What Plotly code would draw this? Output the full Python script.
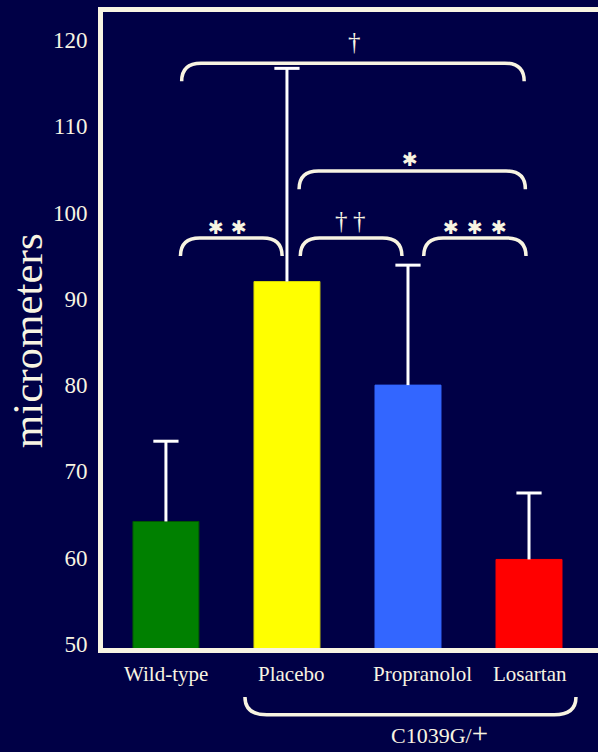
import plotly.graph_objects as go

# Group means and upper standard deviations (micrometers)
groups = ["Wild-type", "Placebo", "Propranolol", "Losartan"]
means = [64.2, 92.0, 80.0, 59.8]
sd_upper = [9.3, 24.7, 13.9, 7.7]
bar_colors = ["#008000", "#FFFF00", "#3366FF", "#FF0000"]
bar_edges = ["#005500", "#D8D800", "#3366FF", "#FF0000"]
y_ticks = [50, 60, 70, 80, 90, 100, 110, 120]

# Significance brackets: (left, right, top value, label, glyph spacing px)
brackets = [
    (0.13, 2.96, 117.3, "†", 0),
    (1.10, 2.97, 104.8, "✱", 0),
    (0.12, 0.96, 97.05, "✱✱", 23),
    (1.11, 1.95, 97.05, "††", 18),
    (2.13, 2.975, 97.05, "✱✱✱", 24),
]
label_x = [1.554, 2.017, 0.508, 1.521, 2.554]
label_y = [119.8, 106.2, 98.3, 99.1, 98.3]

BG = "#000046"
CREAM = "#F8F4E2"
SERIF = "Liberation Serif"

x_pos = list(range(len(groups)))

fig = go.Figure()
# Bars with upward whiskers (no caps at the bar top)
fig.add_trace(go.Bar(
    x=x_pos, y=means, width=0.545,
    marker=dict(color=bar_colors, line=dict(color=bar_edges, width=1)),
    error_y=dict(type="data", array=sd_upper, arrayminus=[0] * len(groups),
                 symmetric=False, color="white", thickness=3, width=0),
    hoverinfo="skip",
))
# Whisker caps at mean + SD
fig.add_trace(go.Scatter(
    x=x_pos, y=[m + s for m, s in zip(means, sd_upper)], mode="markers",
    marker=dict(symbol="line-ew-open", size=18, color="white",
                line=dict(color="white", width=3)),
    hoverinfo="skip",
))

drop = 2.1      # bracket leg length in value units
corner = 0.16   # bracket corner width in category units
for (x0, x1, top, _, _) in brackets:
    path = (f"M {x0},{top - drop} Q {x0},{top} {x0 + corner},{top} "
            f"L {x1 - corner},{top} Q {x1},{top} {x1},{top - drop}")
    fig.add_shape(type="path", path=path, xref="x", yref="y",
                  line=dict(color=CREAM, width=3.5))

for (x0, x1, top, text, gap), lx, ly in zip(brackets, label_x, label_y):
    glyphs = list(text)
    n = len(glyphs)
    for k, g in enumerate(glyphs):
        is_star = g == "✱"
        fig.add_annotation(
            x=lx, y=ly, xref="x", yref="y", text=g, showarrow=False,
            xshift=(k - (n - 1) / 2) * gap, yanchor="middle",
            font=dict(family="DejaVu Sans" if is_star else SERIF,
                      size=19 if is_star else 25, color=CREAM),
        )

# Category labels under the axis
label_shift = [0, 4, 15, 1]
for i, (name, sh) in enumerate(zip(groups, label_shift)):
    fig.add_annotation(x=i, y=-0.041, xref="x", yref="paper", text=name,
                       showarrow=False, xshift=sh, yanchor="middle",
                       font=dict(family=SERIF, size=21, color=CREAM))

# Bracket grouping the mutant mice
bx0, bx1, btop, bbot = 0.653, 3.388, -0.077, -0.105
bc = 0.18
fig.add_shape(type="path", xref="x", yref="paper",
              path=(f"M {bx0},{btop} Q {bx0},{bbot} {bx0 + bc},{bbot} "
                    f"L {bx1 - bc},{bbot} Q {bx1},{bbot} {bx1},{btop}"),
              line=dict(color=CREAM, width=3.5))
fig.add_annotation(x=2.26, y=-0.133, xref="x", yref="paper",
                   text="C1039G/<span style='font-size:29px'>+</span>",
                   showarrow=False, yanchor="middle",
                   font=dict(family=SERIF, size=22, color=CREAM))

# Axis title
fig.add_annotation(x=-0.152, y=0.4835, xref="paper", yref="paper",
                   text="micrometers", textangle=-90, showarrow=False,
                   xanchor="center", yanchor="middle",
                   font=dict(family=SERIF, size=43, color=CREAM))

fig.update_layout(
    width=598, height=752,
    margin=dict(l=103, r=0, t=12, b=104),
    paper_bgcolor=BG, plot_bgcolor=BG,
    showlegend=False,
    xaxis=dict(range=[-0.52, 3.57], showticklabels=False, showgrid=False,
               zeroline=False, showline=True, mirror=True,
               linecolor=CREAM, linewidth=5, ticks=""),
    yaxis=dict(range=[49.54, 123.23], tickvals=y_ticks, showgrid=False,
               zeroline=False, showline=True, mirror=False,
               linecolor=CREAM, linewidth=5, ticks="",
               ticklabelstandoff=6,
               tickfont=dict(family=SERIF, size=23, color=CREAM)),
)

fig.write_html("out.html")
